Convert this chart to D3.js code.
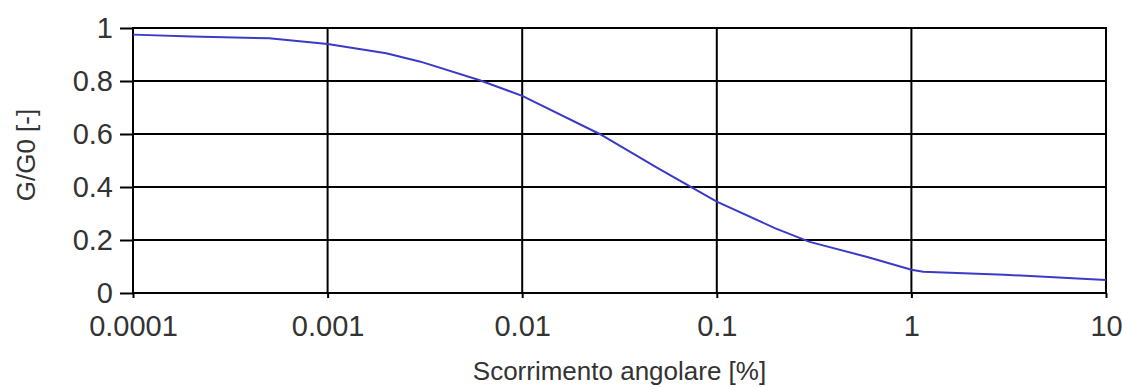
<!DOCTYPE html>
<html lang="it">
  <head>
    <meta charset="UTF-8" />
    <title>G/G0 - Scorrimento angolare</title>
    <style>
      body { margin: 0; background: #fff; }
      svg { display: block; font-family: "Liberation Sans", Arial, sans-serif; }
      .grid line { stroke: #000; stroke-width: 2px; }
      .frame { fill: none; stroke: #000; stroke-width: 2px; }
      .axis path { display: none; }
      .axis line { stroke: #000; stroke-width: 2px; }
      .axis text { fill: #333; font-size: 29px; }
      .title { fill: #333; font-size: 26px; }
      .curve { fill: none; stroke: #3a3ac8; stroke-width: 2px; }
    </style>
  </head>
  <body>
    <script src="https://cdn.jsdelivr.net/npm/d3@7"></script>
    <script>
    // values
    var strain = [0.0001, 0.0002, 0.0005, 0.001, 0.002, 0.003, 0.006, 0.01, 0.025, 0.05,
                  0.1, 0.2, 0.3, 0.6, 1, 1.15, 3, 10];
    var ratio = [0.975, 0.968, 0.961, 0.940, 0.905, 0.873, 0.804, 0.744, 0.600, 0.470,
                 0.345, 0.244, 0.193, 0.135, 0.088, 0.080, 0.069, 0.049];
    var xTicks = [0.0001, 0.001, 0.01, 0.1, 1, 10];
    var xTickLabels = ["0.0001", "0.001", "0.01", "0.1", "1", "10"];
    var yTicks = [0, 0.2, 0.4, 0.6, 0.8, 1];
    var yTickLabels = ["0", "0.2", "0.4", "0.6", "0.8", "1"];

    var W = 1122, H = 387;
    var margin = { top: 28, right: 16, bottom: 94, left: 133 };
    var w = W - margin.left - margin.right,
        h = H - margin.top - margin.bottom;

    var data = strain.map(function(s, i) { return { x: s, y: ratio[i] }; });

    var svg = d3.select("body").append("svg")
        .attr("width", W)
        .attr("height", H);
    var g = svg.append("g")
        .attr("transform", "translate(" + margin.left + "," + margin.top + ")");

    var xScale = d3.scaleLog().domain([0.0001, 10]).range([0, w]);
    var yScale = d3.scaleLinear().domain([0, 1]).range([h, 0]);

    // grid
    var grid = g.append("g").attr("class", "grid");
    grid.selectAll(".gx").data(xTicks).enter().append("line")
        .attr("x1", function(d) { return xScale(d); })
        .attr("x2", function(d) { return xScale(d); })
        .attr("y1", 0).attr("y2", h);
    grid.selectAll(".gy").data(yTicks).enter().append("line")
        .attr("x1", 0).attr("x2", w)
        .attr("y1", function(d) { return yScale(d); })
        .attr("y2", function(d) { return yScale(d); });

    g.append("rect").attr("class", "frame")
        .attr("x", 0).attr("y", 0).attr("width", w).attr("height", h);

    // axes
    var xAxis = d3.axisBottom(xScale)
        .tickValues(xTicks)
        .tickFormat(function(d, i) { return xTickLabels[i]; })
        .tickSize(5)
        .tickPadding(17);
    g.append("g").attr("class", "axis")
        .attr("transform", "translate(0," + h + ")")
        .call(xAxis);

    var yAxis = d3.axisLeft(yScale)
        .tickValues(yTicks)
        .tickFormat(function(d, i) { return yTickLabels[i]; })
        .tickSize(13)
        .tickPadding(7);
    g.append("g").attr("class", "axis").call(yAxis);

    // curve
    var line = d3.line()
        .x(function(d) { return xScale(d.x); })
        .y(function(d) { return yScale(d.y); });
    g.append("path").datum(data).attr("class", "curve").attr("d", line);

    // titles
    svg.append("text").attr("class", "title")
        .attr("text-anchor", "middle")
        .attr("x", margin.left + w / 2)
        .attr("y", 380)
        .text("Scorrimento angolare [%]");
    svg.append("text").attr("class", "title")
        .attr("text-anchor", "middle")
        .attr("transform", "translate(35,155)rotate(-90)")
        .text("G/G0 [-]");
    </script>
  </body>
</html>
